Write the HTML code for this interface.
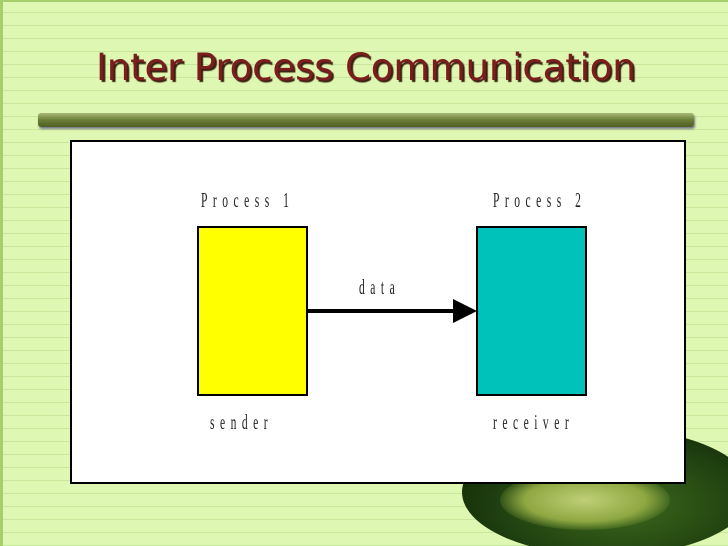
<!DOCTYPE html>
<html style="overflow:hidden;width:728px;height:546px"><head><style>
body{margin:0;width:728px;height:546px;overflow:hidden;position:relative;
background:#def7b2;
background-image:repeating-linear-gradient(to bottom,transparent 0,transparent 12px,#c9e79a 12px,#c9e79a 13px);
font-family:"Liberation Serif",serif;}
.a{position:absolute}
.t{position:absolute;white-space:nowrap;font-size:21px;color:#222;transform-origin:0 0;transform:scaleX(0.55);letter-spacing:10px}
</style></head><body>
<div class="a" style="left:0;top:0;width:728px;height:546px;overflow:hidden">
<div class="a" style="left:0;top:0;width:3px;height:546px;background:#a6cf6c"></div>
<div class="a" style="left:0;top:0;width:728px;height:2px;background:#a6cf6c"></div>
<div class="a" style="left:462px;top:428px;width:290px;height:128px;border-radius:50%;background:radial-gradient(ellipse at 55% 60%,#3e6a1c 0%,#1f4010 55%,#163008 75%,rgba(200,230,150,0) 100%)"></div>
<div class="a" style="left:500px;top:470px;width:170px;height:60px;border-radius:50%;background:radial-gradient(ellipse,#c0cf78 0%,#8fa842 50%,rgba(0,0,0,0) 75%)"></div>
<div class="a" style="left:96px;top:46px;font-family:'DejaVu Sans',sans-serif;font-size:37px;color:#7b1d1d;text-shadow:2px 2px 1px #3a2010;letter-spacing:-0.3px;transform-origin:0 0;transform:scaleX(1.01)">Inter Process Communication</div>
<div class="a" style="left:38px;top:113px;width:656px;height:14px;border-radius:3px;background:linear-gradient(#a9b97a,#6b7e36 50%,#4e5f24);box-shadow:1px 2px 2px #778"></div>
<div class="a" style="left:70px;top:140px;width:612px;height:340px;background:#fff;border:2px solid #000"></div>
<div class="a" style="left:197px;top:226px;width:107px;height:166px;background:#ffff00;border:2px solid #000"></div>
<div class="a" style="left:476px;top:226px;width:107px;height:166px;background:#00c2bb;border:2px solid #000"></div>
<svg class="a" style="left:0;top:0" width="728" height="546"><line x1="308" y1="311" x2="456" y2="311" stroke="#000" stroke-width="4"/><polygon points="453,299 477,311 453,323" fill="#000"/></svg>
<div class="t" style="left:201px;top:188px">Process 1</div>
<div class="t" style="left:493px;top:188px">Process 2</div>
<div class="t" style="left:359px;top:275px">data</div>
<div class="t" style="left:210px;top:410px">sender</div>
<div class="t" style="left:493px;top:410px">receiver</div>
</div>
</body></html>
